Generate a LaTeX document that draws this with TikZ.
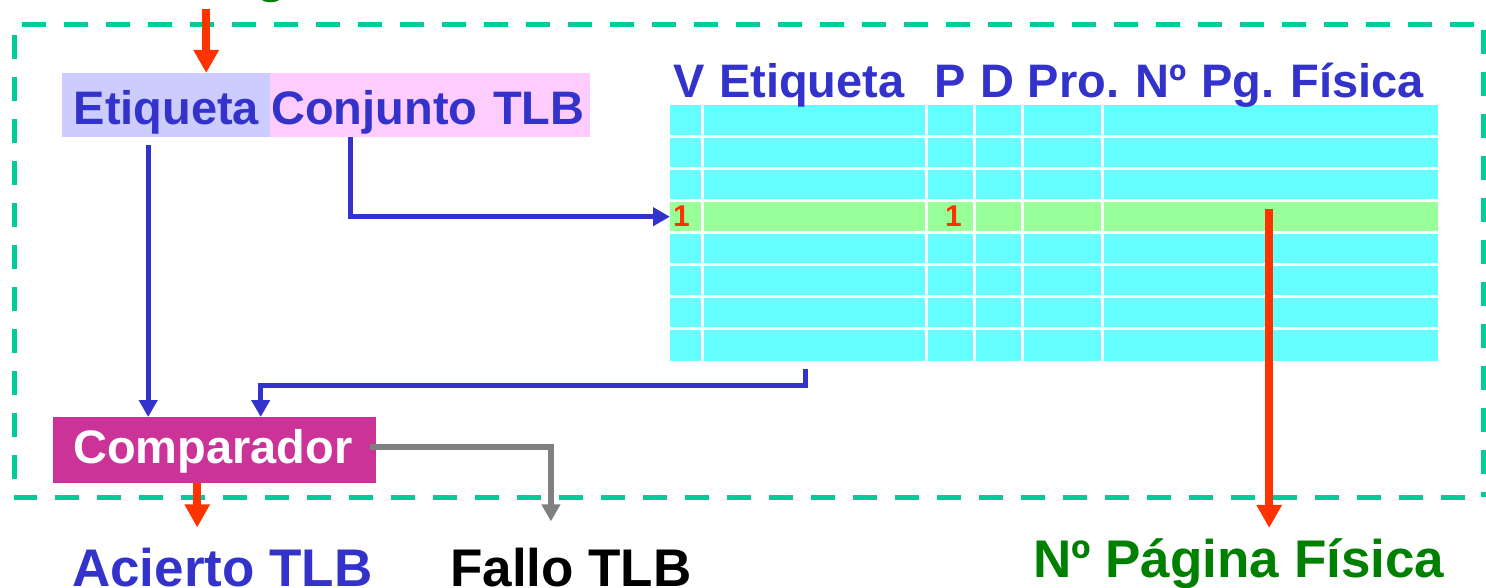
\documentclass[tikz,border=0pt]{standalone}
\usepackage{fontspec}
\setmainfont{Liberation Sans}
\usetikzlibrary{arrows.meta,calc}

\definecolor{frameg}{HTML}{00CC99}
\definecolor{tblue}{HTML}{3333CC}
\definecolor{tred}{HTML}{FF3300}
\definecolor{tgray}{HTML}{808080}
\definecolor{tgreen}{HTML}{008000}
\definecolor{cmpfill}{HTML}{CC3399}
\definecolor{etqfill}{HTML}{CCCCFF}
\definecolor{cjtfill}{HTML}{FFCCFF}
\definecolor{cellcyan}{HTML}{66FFFF}
\definecolor{cellhit}{HTML}{99FF99}

\begin{document}
\begin{tikzpicture}[x=1pt,y=-1pt,
  txtbig/.style={font=\fontsize{47}{50}\selectfont\bfseries},
  txthuge/.style={font=\fontsize{53}{56}\selectfont\bfseries},
  lbl/.style={inner sep=0pt, anchor=base west},
  field/.style={inner ysep=0pt, text height=51pt, text depth=13pt, align=left,
                anchor=north west, txtbig, text=tblue},
  bluearrow/.style={draw=tblue, line width=5pt, -{Triangle[length=17pt,width=18pt]}},
  redarrow/.style={draw=tred, line width=8pt, -{Triangle[length=23pt,width=24pt]}},
  grayarrow/.style={draw=tgray, line width=5.5pt, -{Triangle[length=17pt,width=18pt]}},
  dashframe/.style={draw=frameg, line width=5pt, dash pattern=on 24pt off 18pt},
  gridline/.style={draw=white, line width=3pt}
]
\useasboundingbox (0,0) rectangle (1486,588);

% dashed frame of the TLB unit
\draw[dashframe, dash phase=34pt]   (14,24.5) -- (1483,24.5);
\draw[dashframe, dash phase=31.5pt] (14,24.5) -- (14,497);
\draw[dashframe, dash phase=1pt]    (14,497) -- (1483,497);
\draw[dashframe, dash phase=36.5pt] (1483,24.5) -- (1483,497);

% virtual address fields
\node[field, fill=etqfill, inner xsep=11.5pt, text width=185pt] (etq) at (62,73) {Etiqueta};
\node[field, fill=cjtfill, inner xsep=1pt, text width=318pt] (cjt) at (270,73) {Conjunto TLB};

% TLB table
\node[fill=cellcyan, minimum width=768pt, minimum height=256pt, inner sep=0pt,
      anchor=north west] (tlb) at (670,105) {};
\node[fill=cellhit, minimum width=768pt, minimum height=32pt, inner sep=0pt,
      anchor=north west] (hit) at (670,200.5) {};
\foreach \yy in {136.5,168.5,200.5,232.5,264.5,296.5,328.5}
  \draw[gridline] (670,\yy) -- (1438,\yy);
\foreach \xx in {702,926,974,1022,1102}
  \draw[gridline] (\xx,105) -- (\xx,361);

% column headings
\begin{scope}[every node/.style={lbl, txtbig, text=tblue}]
  \node (hV)   at (673,98)    {V};
  \node (hEtq) at (719,98)    {Etiqueta};
  \node (hP)   at (934.5,98)  {P};
  \node (hD)   at (980.5,98)  {D};
  \node (hPro) at (1027.5,98) {Pro.};
  \node (hN)   at (1135.5,98) {Nº};
  \node (hPg)  at (1201,98)   {Pg.};
  \node (hFis) at (1290.5,98) {Física};
\end{scope}

% valid and present bits of the matching entry
\node[lbl, font=\fontsize{30}{32}\selectfont\bfseries, text=tred] (bitV) at (673,226.5) {1};
\node[lbl, font=\fontsize{30}{32}\selectfont\bfseries, text=tred] (bitP) at (945,226.5) {1};

% comparator
\node[fill=cmpfill, text=white, txtbig, inner ysep=0pt, text height=46pt, text depth=20pt,
      inner xsep=20pt, text width=283pt, align=left, anchor=north west] (cmp) at (53,417) {Comparador};

% labels outside the unit
\node[lbl, txthuge, text=tgreen] (npv) at (118,-8) {Nº Página Virtual};
\node[lbl, txthuge, text=tblue] (acierto) at (72,586) {Acierto TLB};
\node[lbl, txthuge] (fallo) at (450,586) {Fallo TLB};
\node[lbl, txthuge, text=tgreen] (npf) at (1033,577) {Nº Página Física};

% connectors
\coordinate (inx) at ([xshift=40pt]etq.north);
\draw[redarrow, shorten <=6pt] (inx |- npv.south) -- (inx);

\coordinate (e1) at ([xshift=-18pt]etq.south);
\draw[bluearrow, shorten <=8pt] (e1) -- (e1 |- cmp.north);

\coordinate (c1) at ([xshift=-80pt]cjt.south);
\draw[bluearrow] (c1) |- (hit.west);

\coordinate (t1) at ([xshift=-249pt]tlb.south);
\coordinate (c2) at ([xshift=46pt]cmp.north);
\draw[bluearrow, shorten <=8pt] (t1) -- ++(0,24) -| (c2);

\coordinate (h1) at ([xshift=215pt]hit.north);
\draw[redarrow, shorten <=8.5pt, shorten >=10pt] (h1) -- (h1 |- npf.north);

\coordinate (k1) at ([xshift=-17.5pt]cmp.south);
\draw[redarrow, shorten >=20pt] (k1) -- (k1 |- acierto.north);

\coordinate (g1) at ([xshift=-6pt,yshift=3pt]cmp.east);
\coordinate (g2) at ([xshift=-20pt]fallo.north);
\draw[grayarrow, shorten >=26pt] (g1) -| (g2);
\end{tikzpicture}
\end{document}
